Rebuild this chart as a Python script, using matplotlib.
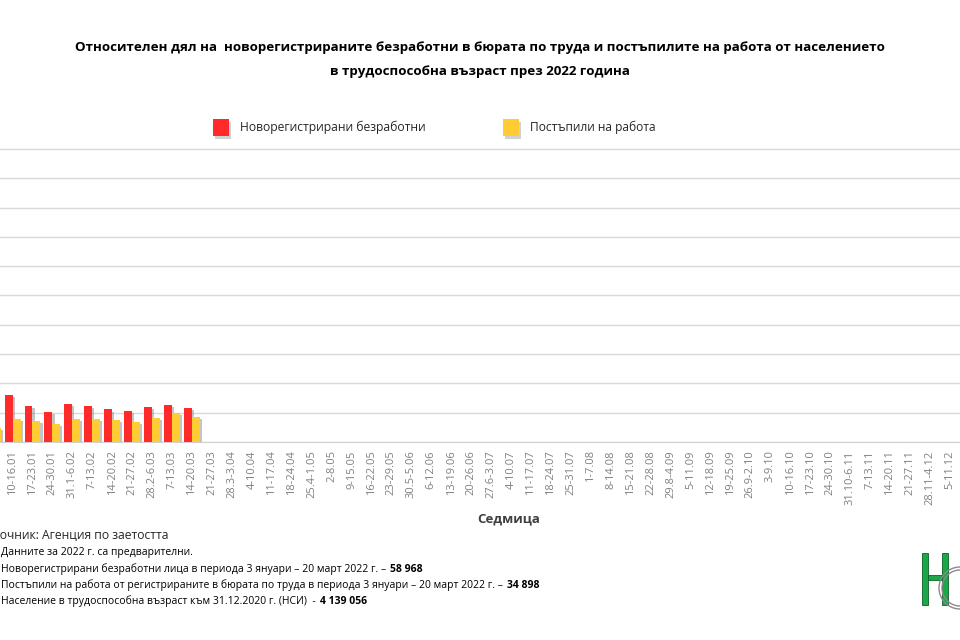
import matplotlib
matplotlib.use('Agg')
import matplotlib.pyplot as plt
import numpy as np
import matplotlib.patheffects as pe
from matplotlib.patches import Rectangle, Circle
from matplotlib.transforms import IdentityTransform

plt.rcParams['font.family'] = ['Open Sans', 'DejaVu Sans']

weeks = ['3-9.01', '10-16.01', '17-23.01', '24-30.01', '31.1-6.02', '7-13.02', '14-20.02',
         '21-27.02', '28.2-6.03', '7-13.03', '14-20.03', '21-27.03', '28.3-3.04', '4-10.04',
         '11-17.04', '18-24.04', '25.4-1.05', '2-8.05', '9-15.05', '16-22.05', '23-29.05',
         '30.5-5.06', '6-12.06', '13-19.06', '20-26.06', '27.6-3.07', '4-10.07', '11-17.07',
         '18-24.07', '25-31.07', '1-7.08', '8-14.08', '15-21.08', '22-28.08', '29.8-4.09',
         '5-11.09', '12-18.09', '19-25.09', '26.9-2.10', '3-9.10', '10-16.10', '17-23.10',
         '24-30.10', '31.10-6.11', '7-13.11', '14-20.11', '21-27.11', '28.11-4.12', '5-11.12',
         '12-18.12', '19-25.12', '26.12-1.01']
# percent of working-age population, weeks with data only
new_unemployed = [0.105, 0.162, 0.122, 0.101, 0.129, 0.122, 0.111, 0.107, 0.119, 0.125, 0.115]
started_work = [0.048, 0.078, 0.071, 0.061, 0.079, 0.079, 0.075, 0.067, 0.082, 0.100, 0.084]

series_names = ['Новорегистрирани безработни', 'Постъпили на работа']
colors = ['#FF2B2B', '#FFCC33']

W, H = 960, 640
fig = plt.figure(figsize=(9.6, 6.4), dpi=100)
renderer = fig.canvas.get_renderer()

step = 19.94
ax_left = -7.4 - step / 2
ax = fig.add_axes([ax_left / W, 198 / H, len(weeks) * step / W, 294 / H])
ax.set_xlim(-0.5, len(weeks) - 0.5)
ax.set_ylim(0, 1.003)
ax.set_yticks(np.arange(0, 1.01, 0.1))
ax.set_yticklabels([])
ax.tick_params(axis='y', length=0)
ax.yaxis.grid(True, color='#D9D9D9', lw=1)
ax.set_axisbelow(True)
for s in ['left', 'right', 'top']:
    ax.spines[s].set_visible(False)
ax.spines['bottom'].set_color('#D0D0D0')

shadow = [pe.SimplePatchShadow(offset=(1.5, -1.5), shadow_rgbFace='#7f7f7f', alpha=0.45), pe.Normal()]
x1 = np.arange(len(new_unemployed))
ax.bar(x1 - 0.2, new_unemployed, width=0.4, color=colors[0], path_effects=shadow, zorder=3)
x2 = np.arange(len(started_work))
ax.bar(x2 + 0.2, started_work, width=0.4, color=colors[1], path_effects=shadow, zorder=3)

ax.set_xticks(np.arange(len(weeks)))
ax.set_xticklabels(weeks, rotation=90, fontsize=8, color='#808080')
ax.tick_params(axis='x', length=0, pad=6)


def fit(t, width_px):
    bb = t.get_window_extent(renderer)
    t.set_fontsize(t.get_fontsize() * width_px / bb.width)
    return t

# Title
t1 = fig.text(480 / W, 1 - 48 / H, 'Относителен дял на  новорегистрираните безработни в бюрата по труда и постъпилите на работа от населението',
              ha='center', va='center', fontsize=10, fontweight='bold', color='#000000')
fit(t1, 814)
fig.text(480 / W, 1 - 71 / H, 'в трудоспособна възраст през 2022 година',
         ha='center', va='center', fontsize=t1.get_fontsize(), fontweight='bold', color='#000000')

# Legend
tr = IdentityTransform()
for (xs, name, c, wtxt) in [(213, series_names[0], colors[0], 188), (503, series_names[1], colors[1], 127)]:
    fig.patches.append(Rectangle((xs + 1.5, H - 137 - 1.5), 16, 17, facecolor='#9a9a9a', alpha=0.45,
                                 edgecolor='none', transform=tr, figure=fig))
    fig.patches.append(Rectangle((xs, H - 136), 16, 17, facecolor=c, edgecolor='none',
                                 transform=tr, figure=fig))
    lt = fig.text((xs + 27) / W, 1 - 127 / H, name, ha='left', va='center', fontsize=9, color='#262626')
    fit(lt, wtxt)

# Axis title
fig.text(509 / W, 1 - 519 / H, 'Седмица', ha='center', va='center', fontsize=9.5,
         fontweight='bold', color='#404040')

# Source (left part cut off by the figure edge, as in the reference)
probe = fig.text(0, 1 - 535 / H, 'очник: Агенция по заетостта', ha='left', va='center', fontsize=10)
fs_src = fit(probe, 169).get_fontsize()
probe.set_text('Изт')
pre_w = probe.get_window_extent(renderer).width
probe.remove()
fig.text(-pre_w / W, 1 - 535 / H, 'Източник: Агенция по заетостта', ha='left', va='center',
         fontsize=fs_src, color='#262626')

# Notes
probe = fig.text(0, 0.5, 'Население в трудоспособна възраст към 31.12.2020 г. (НСИ)  - 4 139 056',
                 fontsize=8.5)
fs_n = fit(probe, 362).get_fontsize()
probe.remove()

fig.text(1 / W, 1 - 553 / H, 'Данните за 2022 г. са предварителни.', ha='left', va='center',
         fontsize=fs_n, color='#000000')
notes = [
    ('Новорегистрирани безработни лица в периода 3 януари – 20 март 2022 г. –', '58 968', 569),
    ('Постъпили на работа от регистрираните в бюрата по труда в периода 3 януари – 20 март 2022 г. –', '34 898', 585),
    ('Население в трудоспособна възраст към 31.12.2020 г. (НСИ)  -', '4 139 056', 601),
]
for normal, bold, y in notes:
    tn = fig.text(1 / W, 1 - y / H, normal, ha='left', va='center', fontsize=fs_n, color='#000000')
    bb = tn.get_window_extent(renderer)
    fig.text((bb.x1 + 4) / W, 1 - y / H, bold, ha='left', va='center', fontsize=fs_n,
             fontweight='bold', color='#000000')

# Logo (partially visible)
green = '#1BA84B'
for rect in [(922, 553, 6, 52), (942, 553, 6, 52), (928, 575, 14, 5)]:
    x, y, w, h = rect
    fig.patches.append(Rectangle((x, H - y - h), w, h, facecolor=green, edgecolor='#0d5e27', lw=0.6,
                                 transform=tr, figure=fig))
for r in [21, 18]:
    fig.patches.append(Circle((960, H - 588), r, facecolor='none', edgecolor='#8a8a8a', lw=1.0,
                              transform=tr, figure=fig))

fig.savefig('out.png', dpi=100)
